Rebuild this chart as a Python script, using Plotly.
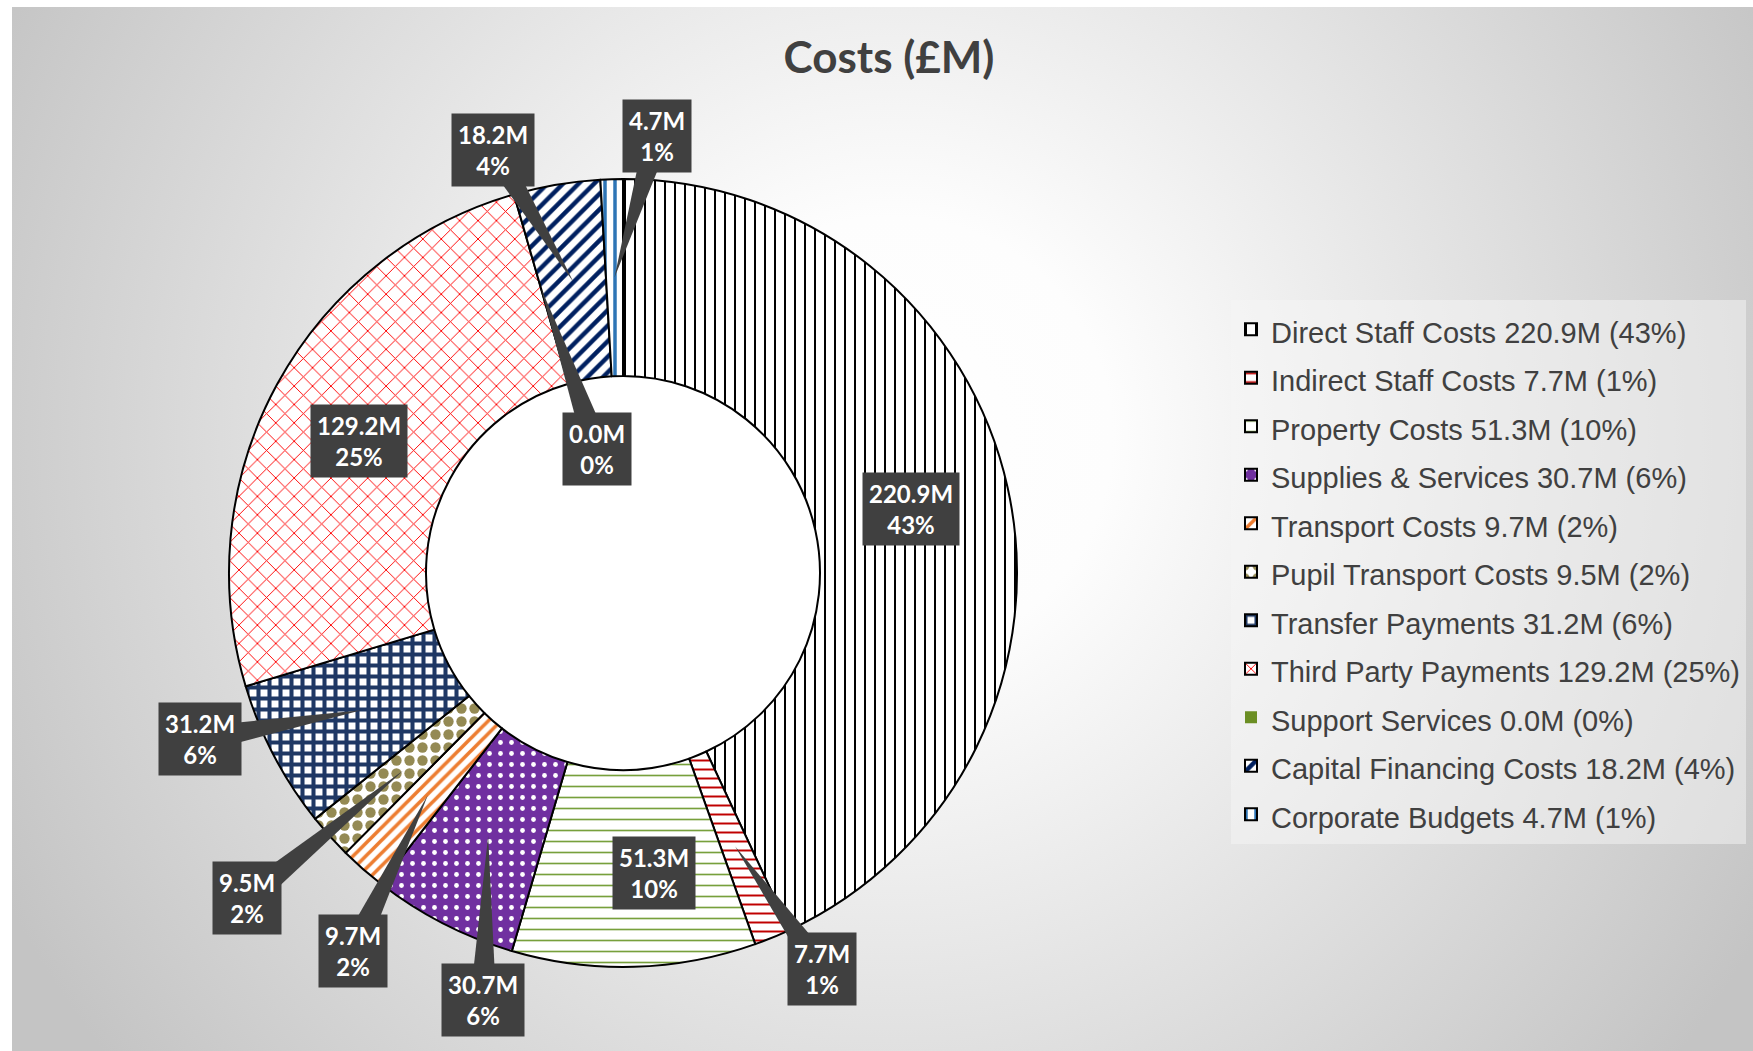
import math
import base64
import plotly.graph_objects as go

# ---------------- data ----------------
categories = ["Direct Staff Costs", "Indirect Staff Costs", "Property Costs", "Supplies & Services",
              "Transport Costs", "Pupil Transport Costs", "Transfer Payments", "Third Party Payments",
              "Support Services", "Capital Financing Costs", "Corporate Budgets"]
values = [220.9, 7.7, 51.3, 30.7, 9.7, 9.5, 31.2, 129.2, 0.0, 18.2, 4.7]
percents = [43, 1, 10, 6, 2, 2, 6, 25, 0, 4, 1]
title_text = "Costs (£M)"

# ---------------- styles ----------------
pattern_shapes = ["|", "-", "-", ".", "/", ".", "+", "x", "", "/", "|"]
fg_colors = ["#000000", "#c00000", "#77a03c", "#ffffff", "#ed7d31", "#948a54",
             "#1f3864", "#ff0000", "#6b8e23", "#002060", "#2e75b6"]
bg_colors = ["#ffffff", "#ffffff", "#ffffff", "#7030a0", "#ffffff", "#ffffff",
             "#ffffff", "#ffffff", "#6b8e23", "#ffffff", "#ffffff"]
pattern_sizes = [10, 9, 11, 11, 9, 13, 11, 13, 8, 11, 10]
pattern_solidity = [0.2, 0.22, 0.15, 0.15, 0.4, 0.5, 0.6, 0.14, 0.3, 0.4, 0.35]
line_widths = [2, 2, 2, 2, 2, 2, 2, 2, 0, 2, 2]

# label box offsets (px) from the slice anchor point; callout flag
label_dx = [0, 87, 23, -5, -75, -156, -161, -5, 56, -80, 43]
label_dy = [0, 123, 5, 164, 156, 128, 29, 9, 160, -132, -142]
callout = [False, True, False, True, True, True, True, False, True, True, True]

# ---------------- geometry ----------------
W, H = 1753, 1051
CX, CY, R = 623, 573, 394
HOLE = 0.5
BOX = "#404040"
TXT = "#404040"

legend_labels = [f"<span style='font-size:29px'>{c} {v:.1f}M ({p}%)</span>"
                 for c, v, p in zip(categories, values, percents)]

fig = go.Figure()
fig.add_trace(go.Pie(
    labels=legend_labels,
    values=values,
    sort=False,
    direction="clockwise",
    rotation=0,
    hole=HOLE,
    textinfo="none",
    hoverinfo="label",
    domain=dict(x=[(CX - R) / W, (CX + R) / W], y=[1 - (CY + R) / H, 1 - (CY - R) / H]),
    marker=dict(
        colors=bg_colors,
        line=dict(color="#000000", width=line_widths),
        pattern=dict(shape=pattern_shapes, fgcolor=fg_colors, bgcolor=bg_colors,
                     size=pattern_sizes, solidity=pattern_solidity, fillmode="replace"),
    ),
    showlegend=True,
))

total = sum(values)
rmid = R * (1 + HOLE) / 2
shapes = []
annotations = []
cum = 0.0
for i, v in enumerate(values):
    a0 = cum / total * 2 * math.pi
    cum += v
    a1 = cum / total * 2 * math.pi
    mid = (a0 + a1) / 2
    tx = CX + rmid * math.sin(mid)
    ty = CY - rmid * math.cos(mid)
    bx = tx + label_dx[i]
    by = ty + label_dy[i]
    if callout[i]:
        ux, uy = tx - bx, ty - by
        L = math.hypot(ux, uy) or 1
        nx, ny = -uy / L, ux / L
        hw = 13
        p1 = (bx + nx * hw, by + ny * hw)
        p2 = (bx - nx * hw, by - ny * hw)
        pts = [p1, (tx, ty), p2]
        path = "M " + " L ".join(f"{px / W:.5f},{1 - py / H:.5f}" for px, py in pts) + " Z"
        shapes.append(dict(type="path", xref="paper", yref="paper", path=path,
                           fillcolor=BOX, line=dict(width=0), layer="above"))
    annotations.append(dict(
        x=bx / W, y=1 - by / H, xref="paper", yref="paper",
        text=f"<b>{v:.1f}M<br>{percents[i]}%</b>", showarrow=False,
        bgcolor=BOX, borderpad=6, xanchor="center", yanchor="middle",
        font=dict(family="Lato", size=24, color="#ffffff"),
    ))

# white hole background
rin = R * HOLE
shapes.insert(0, dict(type="circle", xref="paper", yref="paper",
                      x0=(CX - rin) / W, x1=(CX + rin) / W,
                      y0=1 - (CY + rin) / H, y1=1 - (CY - rin) / H,
                      fillcolor="#ffffff", line=dict(width=0), layer="below"))

# gradient background (chart area)
IW, IH = W - 12, H - 7
svg = (f"<svg xmlns='http://www.w3.org/2000/svg' width='{IW}' height='{IH}' viewBox='0 0 {IW} {IH}' "
       f"preserveAspectRatio='none'><defs><radialGradient id='g' gradientUnits='userSpaceOnUse' "
       f"cx='880' cy='430' r='1000'><stop offset='0' stop-color='#ffffff'/>"
       f"<stop offset='0.22' stop-color='#fdfdfd'/><stop offset='1' stop-color='#c4c4c4'/>"
       f"</radialGradient></defs><rect x='0' y='0' width='{IW}' height='{IH}' fill='url(#g)'/></svg>")
src = "data:image/svg+xml;base64," + base64.b64encode(svg.encode()).decode()

fig.update_layout(
    width=W, height=H,
    margin=dict(l=0, r=0, t=0, b=0),
    paper_bgcolor="#ffffff",
    plot_bgcolor="rgba(0,0,0,0)",
    images=[dict(source=src, xref="paper", yref="paper", x=12 / W, y=1 - 7 / H,
                 sizex=IW / W, sizey=IH / H, xanchor="left", yanchor="top",
                 sizing="stretch", layer="below")],
    title=dict(text=f"<b>{title_text}</b>", x=889 / W, y=1 - 58 / H, xanchor="center",
               yanchor="middle", font=dict(family="Lato", size=44, color=TXT)),
    legend=dict(x=1231 / W, y=1 - 300 / H, xanchor="left", yanchor="top",
                bgcolor="rgba(245,245,245,0.5)", borderwidth=0,
                font=dict(family="Liberation Sans", size=35, color=TXT),
                traceorder="normal"),
    shapes=shapes,
    annotations=annotations,
)

fig.write_html("out.html", config={"displayModeBar": False},
               post_script="document.body.style.margin='0';")
